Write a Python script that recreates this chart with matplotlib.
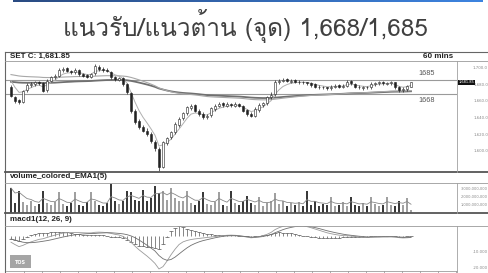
import numpy as np
import matplotlib
matplotlib.use("Agg")
import matplotlib.pyplot as plt
from matplotlib.lines import Line2D
from matplotlib.patches import Rectangle
from matplotlib import font_manager as fm
from matplotlib.ft2font import FT2Font
from matplotlib.colors import LinearSegmentedColormap
import matplotlib.transforms as mtransforms

# ---------------- data ----------------
title = "แนวรับ/แนวต้าน (จุด) 1,668/1,685"
symbol_label = "SET C: 1,681.85"
timeframe = "60 mins"
support = 1668
resistance = 1685
last_price = 1681.85

opens = [1677, 1665, 1661, 1659, 1673, 1679, 1680, 1683, 1681, 1673,
         1684, 1688, 1690, 1697, 1699, 1696, 1694, 1697, 1692, 1691,
         1689, 1693, 1701, 1698, 1697, 1695, 1688, 1685, 1687, 1680,
         1669, 1648, 1636, 1629, 1624, 1620, 1611, 1602, 1581, 1609,
         1616, 1622, 1631, 1639, 1645, 1651, 1655, 1648, 1644, 1640,
         1643, 1650, 1654, 1657, 1654, 1656, 1654, 1656, 1654, 1649,
         1644, 1642, 1649, 1655, 1657, 1664, 1668, 1682, 1684, 1686,
         1683, 1685, 1682, 1683, 1682, 1681, 1680, 1677, 1677, 1676,
         1675, 1677, 1679, 1677, 1678, 1684, 1680, 1677, 1675, 1677,
         1676, 1680, 1681, 1683, 1680, 1681, 1682, 1676, 1673, 1674, 1677]
highs = [1679, 1666, 1662, 1673, 1681, 1682, 1684, 1684, 1682, 1686,
         1690, 1692, 1699, 1700, 1700, 1697, 1699, 1698, 1693, 1692,
         1693, 1704, 1703, 1700, 1699, 1696, 1690, 1689, 1688, 1681,
         1670, 1650, 1638, 1631, 1627, 1622, 1613, 1604, 1612, 1617,
         1624, 1634, 1640, 1647, 1654, 1656, 1656, 1650, 1646, 1644,
         1653, 1656, 1658, 1658, 1658, 1657, 1658, 1657, 1655, 1650,
         1646, 1652, 1657, 1659, 1666, 1670, 1685, 1686, 1687, 1687,
         1686, 1686, 1685, 1684, 1683, 1682, 1681, 1679, 1678, 1677,
         1679, 1680, 1680, 1680, 1685, 1685, 1681, 1679, 1678, 1678,
         1682, 1683, 1684, 1684, 1683, 1684, 1683, 1678, 1676, 1679, 1683]
lows = [1664, 1657, 1656, 1657, 1671, 1677, 1678, 1679, 1670, 1671,
        1682, 1686, 1688, 1695, 1694, 1692, 1692, 1690, 1688, 1687,
        1687, 1691, 1696, 1695, 1694, 1686, 1684, 1684, 1678, 1668,
        1645, 1632, 1626, 1622, 1618, 1609, 1600, 1576, 1579, 1607,
        1614, 1620, 1629, 1637, 1643, 1649, 1646, 1642, 1638, 1638,
        1641, 1648, 1652, 1653, 1652, 1653, 1652, 1652, 1646, 1642,
        1640, 1640, 1647, 1653, 1655, 1662, 1666, 1680, 1682, 1682,
        1681, 1681, 1680, 1680, 1679, 1677, 1675, 1674, 1674, 1673,
        1673, 1675, 1675, 1675, 1676, 1679, 1675, 1674, 1673, 1674,
        1674, 1678, 1679, 1679, 1679, 1679, 1674, 1671, 1671, 1672, 1676]
closes = [1666, 1660, 1658, 1672, 1679, 1680, 1682, 1681, 1672, 1684,
          1688, 1690, 1697, 1698, 1696, 1694, 1697, 1692, 1690, 1689,
          1692, 1702, 1698, 1697, 1696, 1688, 1686, 1687, 1680, 1670,
          1648, 1635, 1628, 1624, 1620, 1612, 1603, 1580, 1610, 1615,
          1622, 1632, 1638, 1645, 1652, 1654, 1648, 1644, 1640, 1642,
          1651, 1654, 1656, 1655, 1656, 1655, 1656, 1654, 1648, 1644,
          1642, 1650, 1655, 1657, 1664, 1667, 1683, 1684, 1685, 1684,
          1684, 1683, 1683, 1682, 1681, 1679, 1677, 1676, 1676, 1675,
          1677, 1678, 1677, 1678, 1683, 1681, 1677, 1676, 1676, 1676,
          1680, 1681, 1682, 1681, 1681, 1682, 1676, 1673, 1674, 1678, 1681.85]
# volume in billions
volumes = [3.0, 1.2, 2.7, 1.3, 1.0, 1.4, 0.9, 1.1, 2.7, 1.2,
           1.0, 1.3, 2.5, 1.1, 0.8, 1.2, 2.5, 1.0, 0.9, 1.3,
           2.5, 1.4, 1.0, 0.8, 1.2, 3.5, 1.5, 1.1, 1.4, 2.7,
           2.5, 1.6, 1.4, 2.8, 1.5, 1.8, 3.2, 2.4, 2.7, 1.6,
           3.0, 1.8, 1.4, 1.5, 2.7, 1.2, 1.0, 1.5, 2.5, 1.1,
           1.0, 1.3, 2.5, 1.0, 0.9, 2.7, 1.2, 1.0, 1.4, 2.1,
           1.2, 1.0, 1.9, 0.8, 1.2, 1.4, 2.4, 1.1, 1.4, 0.9,
           1.2, 1.0, 1.3, 0.9, 2.6, 1.0, 1.4, 0.9, 1.1, 1.0,
           1.9, 0.8, 1.0, 1.3, 0.9, 1.9, 1.0, 0.8, 1.2, 0.9,
           1.9, 1.1, 0.9, 1.0, 1.9, 1.0, 0.9, 1.5, 1.0, 1.8, 0.4]

# MACD line and signal line
macd_line = [-4.0, -5.5, -6.8, -6.0, -4.8, -3.8, -3.0, -2.2, -1.8, -1.0,
             -0.2, 0.5, 1.2, 1.8, 2.0, 2.1, 2.2, 2.1, 2.0, 1.9,
             1.9, 2.3, 2.4, 2.3, 2.1, 1.6, 1.0, 0.6, -0.3, -1.8,
             -4.0, -6.5, -8.8, -10.8, -12.8, -15.0, -17.5, -21.0, -19.5, -16.0,
             -12.0, -8.5, -5.5, -3.8, -2.9, -2.3, -1.9, -1.6, -1.3, -1.0,
             -0.7, -0.4, -0.1, 0.2, 0.4, 0.5, 0.4, 0.2, -0.3, -0.8,
             -1.2, -1.0, -0.5, 0.2, 1.0, 2.2, 4.0, 5.2, 6.1, 6.7,
             7.0, 7.0, 6.8, 6.4, 5.9, 5.2, 4.4, 3.6, 2.8, 2.0,
             1.4, 0.9, 0.5, 0.2, 0.1, -0.1, -0.4, -0.7, -0.9, -1.0,
             -0.8, -0.6, -0.5, -0.5, -0.5, -0.4, -0.7, -1.1, -1.3, -1.2, -1.0]
signal_line = [-2.0, -2.6, -3.4, -4.0, -4.3, -4.3, -4.1, -3.8, -3.4, -3.0,
               -2.5, -1.9, -1.3, -0.7, -0.2, 0.3, 0.7, 1.0, 1.2, 1.4,
               1.5, 1.6, 1.8, 1.9, 2.0, 2.0, 1.8, 1.6, 1.3, 0.8,
               0.0, -1.1, -2.6, -4.2, -5.9, -7.7, -9.6, -12.5, -14.5, -15.5,
               -15.0, -13.5, -11.5, -9.5, -7.6, -6.0, -4.8, -3.8, -3.0, -2.4,
               -1.8, -1.2, -0.7, -0.3, 0.0, 0.1, 0.1, 0.0, -0.2, -0.5,
               -0.7, -0.8, -0.7, -0.4, 0.2, 0.9, 2.0, 3.0, 4.0, 4.8,
               5.4, 5.9, 6.1, 6.2, 6.1, 5.8, 5.3, 4.7, 4.0, 3.3,
               2.7, 2.1, 1.6, 1.1, 0.7, 0.4, 0.1, -0.2, -0.4, -0.6,
               -0.7, -0.7, -0.7, -0.6, -0.6, -0.6, -0.6, -0.7, -0.8, -0.9, -0.9]

# moving-average settings (period, starting value)
ma_fast = (5, 1693)
ma_mid = (75, 1692)
ma_slow = (100, 1683)
vol_ema_period = 5

price_ticks = [1600, 1620, 1640, 1660, 1680, 1700]
vol_ticks = [1e9, 2e9, 3e9]
macd_ticks = [-20, -10]

n = min(len(opens), len(highs), len(lows), len(closes), len(volumes),
        len(macd_line), len(signal_line))
opens = np.array(opens[:n], float); highs = np.array(highs[:n], float)
lows = np.array(lows[:n], float); closes = np.array(closes[:n], float)
volumes = np.array(volumes[:n], float) * 1e9
macd = np.array(macd_line[:n], float)
signal = np.array(signal_line[:n], float)
hist = macd - signal
x = np.arange(n)


def ema(values, period, seed):
    a = 2.0 / (period + 1)
    out = []
    e = seed
    for v in values:
        e = e + a * (v - e)
        out.append(e)
    return np.array(out)


# ---------------- fonts ----------------
thai_family = None
for fe in fm.fontManager.ttflist:
    try:
        cmap = FT2Font(fe.fname).get_charmap()
        if 0x0E41 in cmap and 0x0E23 in cmap:
            thai_family = fe.name
            break
    except Exception:
        pass
title_fams = ([thai_family] if thai_family else []) + ["DejaVu Sans"]

W, H = 489, 273
fig = plt.figure(figsize=(W / 100, H / 100), dpi=100)
fig.patch.set_facecolor("white")


def rect(x0, y0, x1, y1):
    return [x0 / W, 1 - y1 / H, (x1 - x0) / W, (y1 - y0) / H]


def hline(y, x0, x1, color, lw):
    fig.add_artist(Line2D([x0 / W, x1 / W], [1 - y / H, 1 - y / H],
                          transform=fig.transFigure, color=color, lw=lw))


def vline(xp, y0, y1, color, lw):
    fig.add_artist(Line2D([xp / W, xp / W], [1 - y0 / H, 1 - y1 / H],
                          transform=fig.transFigure, color=color, lw=lw))


def right_labels(axis, pad_px):
    for lab in axis.get_yticklabels():
        lab.set_horizontalalignment("right")
    axis.tick_params(axis="y", pad=pad_px * 0.72)


# top gradient bar
gax = fig.add_axes(rect(13, 0, 483, 2))
grad = np.linspace(0, 1, 256).reshape(1, -1)
cm = LinearSegmentedColormap.from_list("b", ["#2a4b82", "#3d84e0"])
gax.imshow(grad, aspect="auto", cmap=cm)
gax.axis("off")

fig.text(245 / W, 1 - 26 / H, title, ha="center", va="center",
         fontsize=17.5, family=title_fams, color="#404040")

XL = ((6 - 11) / 4.0, (457 - 11) / 4.0)

# ---------------- main price panel ----------------
ax = fig.add_axes(rect(6, 61, 457, 172))
ax.set_facecolor("none")
ax.set_xlim(*XL)
ax.set_ylim(1574.5, 1707.6)
for s in ax.spines.values():
    s.set_visible(False)
ax.axhline(resistance, color="#9a9a9a", lw=0.8, zorder=1)
ax.axhline(support, color="#9a9a9a", lw=0.8, zorder=1)

ax.plot(x, ema(closes, *ma_slow), color="#707070", lw=1.3, zorder=2)
ax.plot(x, ema(closes, *ma_mid), color="#a8a8a8", lw=0.8, zorder=2)
ax.plot(x, ema(closes, *ma_fast), color="#b0b0b0", lw=0.7, zorder=2)

up = closes >= opens
ax.vlines(x, lows, highs, color="#222222", lw=0.5, zorder=3)
bottoms = np.minimum(opens, closes)
heights = np.maximum(np.abs(closes - opens), 0.6)
ax.bar(x[up], heights[up], bottom=bottoms[up], width=0.6,
       color="white", edgecolor="#222222", lw=0.4, zorder=4)
ax.bar(x[~up], heights[~up], bottom=bottoms[~up], width=0.6,
       color="#222222", edgecolor="#222222", lw=0.4, zorder=4)

ax.annotate(str(resistance), (101.8, resistance), xytext=(0, 2),
            textcoords="offset points", va="bottom", ha="left",
            fontsize=5.2, color="#555555", family="Liberation Sans")
ax.annotate(str(support), (101.8, support), xytext=(0, -2),
            textcoords="offset points", va="top", ha="left",
            fontsize=5.2, color="#555555", family="Liberation Sans")

ax.yaxis.tick_right()
ax.set_yticks(price_ticks)
ax.set_yticklabels([f"{v:,.1f}" for v in price_ticks])
ax.tick_params(axis="y", length=0, labelsize=2.8, labelcolor="#888888")
right_labels(ax, 31)
ax.set_xticks([])
tr = mtransforms.blended_transform_factory(ax.transAxes, ax.transData)
ax.text(1.004, last_price, f"{last_price:,.2f}", transform=tr, ha="left",
        va="center", fontsize=2.6, color="white", clip_on=False,
        bbox=dict(boxstyle="square,pad=0.2", fc="#111111", ec="none"),
        zorder=6)

# ---------------- volume panel ----------------
vax = fig.add_axes(rect(6, 183, 457, 213))
vax.set_facecolor("none")
vax.set_xlim(*XL)
vax.set_ylim(0, 3.6e9)
for s in vax.spines.values():
    s.set_visible(False)
vcols = np.where(up, "#a0a0a0", "#3a3a3a")
vax.bar(x, volumes, width=0.42, color=vcols, zorder=2)
vax.plot(x, ema(volumes, vol_ema_period, volumes[0]), color="#888888",
         lw=0.6, zorder=3)
vax.yaxis.tick_right()
vax.set_yticks(vol_ticks)
vax.set_yticklabels([f"{v:,.0f}" for v in vol_ticks])
vax.tick_params(axis="y", length=0, labelsize=2.6, labelcolor="#888888")
right_labels(vax, 31)
vax.set_xticks([])

# ---------------- MACD panel ----------------
max_ = fig.add_axes(rect(6, 226, 457, 271))
max_.set_facecolor("none")
max_.set_xlim(*XL)
max_.set_ylim(-22.3, 6.3)
for s in max_.spines.values():
    s.set_visible(False)
max_.vlines(x, 0, hist, color="#555555", lw=0.5, zorder=2)
max_.plot(x, hist, ls="none", marker="_", ms=2.2, mew=0.5, color="#555555",
          zorder=2)
max_.plot(x, macd, color="#9a9a9a", lw=0.6, zorder=3)
max_.plot(x, signal, color="#707070", lw=0.6, zorder=3)
max_.yaxis.tick_right()
max_.set_yticks(macd_ticks)
max_.set_yticklabels([f"{v:.3f}" for v in macd_ticks])
max_.tick_params(axis="y", length=0, labelsize=2.8, labelcolor="#888888")
right_labels(max_, 31)
max_.set_xticks(np.arange(3.25, 112, 4.5))
max_.tick_params(axis="x", length=2, width=0.5, color="#888888",
                 labelbottom=False, direction="out")
max_.spines["bottom"].set_visible(True)
max_.spines["bottom"].set_color("#888888")
max_.spines["bottom"].set_linewidth(0.5)

# TOS logo
fig.patches.append(Rectangle((10 / W, 1 - 268 / H), 21 / W, 13 / H,
                             transform=fig.transFigure, fc="#a5a5a5",
                             ec="none"))
fig.text(20.5 / W, 1 - 262 / H, "TOS", ha="center", va="center",
         fontsize=3.5, color="white", weight="bold", family="DejaVu Sans")

# ---------------- frames & headers ----------------
hline(52, 5, 489, "#666666", 0.8)
vline(5.4, 52, 273, "#666666", 0.8)
hline(61, 5, 489, "#9a9a9a", 0.6)
hline(172, 5, 489, "#555555", 1.3)
hline(182.5, 5, 489, "#9a9a9a", 0.6)
hline(213, 5, 489, "#555555", 1.3)
hline(225.5, 5, 489, "#9a9a9a", 0.6)
vline(457, 61, 172, "#a0a0a0", 0.6)
vline(457, 182.5, 213, "#a0a0a0", 0.6)
vline(457, 225.5, 273, "#a0a0a0", 0.6)

hdr = dict(fontsize=5.8, weight="bold", color="#222222",
           family="Liberation Sans", va="center", ha="left")
fig.text(10 / W, 1 - 56.5 / H, symbol_label, **hdr)
fig.text(423 / W, 1 - 56.5 / H, timeframe, **hdr)
fig.text(10 / W, 1 - 177 / H, "volume_colored_EMA1(5)", **hdr)
fig.text(10 / W, 1 - 219.5 / H, "macd1(12, 26, 9)", **hdr)

fig.savefig("out.png", dpi=100, facecolor="white")
